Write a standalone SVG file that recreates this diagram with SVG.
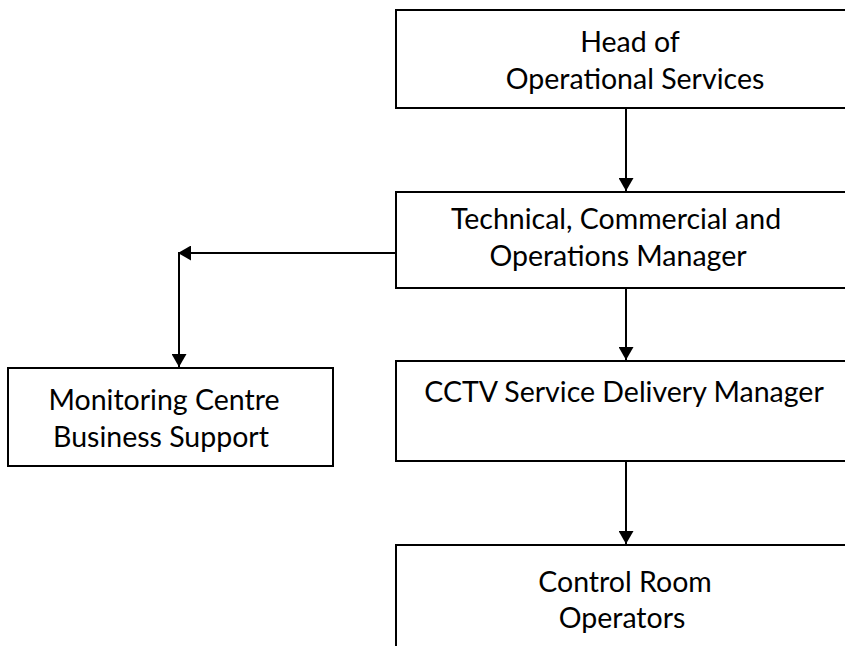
<svg xmlns="http://www.w3.org/2000/svg" width="845" height="646" viewBox="0 0 845 646">
<style>
.box{fill:#fff;stroke:#000;stroke-width:2}
.t{font-family:Lato,"Open Sans","Liberation Sans",sans-serif;font-size:28.5px;fill:#000;text-anchor:middle}
.c{fill:none;stroke:#000;stroke-width:2}
</style>
<defs>
<marker id="ah" viewBox="0 0 13 15" refX="13" refY="7.5" markerWidth="13" markerHeight="15" markerUnits="userSpaceOnUse" orient="auto">
<path d="M0,0 L13,7.5 L0,15 Z" fill="#000"/>
</marker>
</defs>
<rect width="845" height="646" fill="#fff"/>
<g id="connectors">
<line class="c" x1="626" y1="108" x2="626" y2="191" marker-end="url(#ah)"/>
<line class="c" x1="396" y1="253" x2="178" y2="253" marker-end="url(#ah)"/>
<line class="c" x1="179" y1="252" x2="179" y2="367" marker-end="url(#ah)"/>
<line class="c" x1="626" y1="288" x2="626" y2="360" marker-end="url(#ah)"/>
<line class="c" x1="626" y1="461" x2="626" y2="544" marker-end="url(#ah)"/>
</g>
<g id="head">
<rect class="box" x="396" y="10" width="480" height="98"/>
<text class="t" x="630" y="52">Head of</text>
<text class="t" x="635" y="89">Operational Services</text>
</g>
<g id="tcom">
<rect class="box" x="396" y="192" width="480" height="96"/>
<text class="t" x="616" y="229">Technical, Commercial and</text>
<text class="t" x="618" y="266">Operations Manager</text>
</g>
<g id="mcbs">
<rect class="box" x="8" y="368" width="325" height="98"/>
<text class="t" x="164" y="410">Monitoring Centre</text>
<text class="t" x="161" y="447">Business Support</text>
</g>
<g id="cctv">
<rect class="box" x="396" y="361" width="480" height="100"/>
<text class="t" x="624" y="402">CCTV Service Delivery Manager</text>
</g>
<g id="cro">
<rect class="box" x="396" y="545" width="480" height="120"/>
<text class="t" x="625" y="592">Control Room</text>
<text class="t" x="622" y="628">Operators</text>
</g>
</svg>
